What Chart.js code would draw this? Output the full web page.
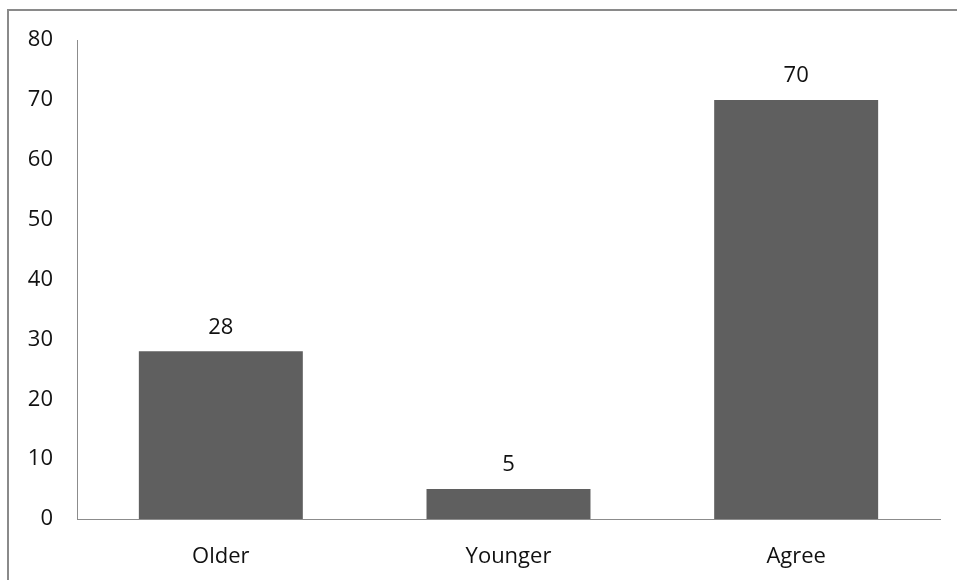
<!DOCTYPE html>
<html>
<head>
<meta charset="utf-8">
<script src="https://cdn.jsdelivr.net/npm/chart.js@4/dist/chart.umd.min.js"></script>
<style>
  html, body { margin: 0; padding: 0; background: #fff; }
  #wrap { position: relative; width: 957px; height: 580px; }
  canvas { display: block; }
</style>
</head>
<body>
<div id="wrap"><canvas id="chart" width="957" height="580"></canvas></div>
<script>
// Responses per group
const categories = ['Older', 'Younger', 'Agree'];
const counts = [28, 5, 70];
const yTicks = [0, 10, 20, 30, 40, 50, 60, 70, 80];

const FONT = '"Open Sans", "Liberation Sans", sans-serif';

// Frame lines along the left and top edges of the figure
const framePlugin = {
  id: 'frame',
  beforeDraw(chart) {
    const ctx = chart.ctx;
    ctx.save();
    ctx.fillStyle = '#ffffff';
    ctx.fillRect(0, 0, chart.width, chart.height);
    ctx.strokeStyle = '#8a8a8a';
    ctx.lineWidth = 2;
    ctx.beginPath();
    ctx.moveTo(8, chart.height);
    ctx.lineTo(8, 10);
    ctx.lineTo(chart.width, 10);
    ctx.stroke();
    ctx.restore();
  }
};

// Value printed above each bar
const valueLabels = {
  id: 'valueLabels',
  afterDatasetsDraw(chart) {
    const ctx = chart.ctx;
    const meta = chart.getDatasetMeta(0);
    ctx.save();
    ctx.font = '22px ' + FONT;
    ctx.fillStyle = '#111111';
    ctx.textAlign = 'center';
    ctx.textBaseline = 'middle';
    meta.data.forEach((bar, i) => {
      ctx.fillText(String(chart.data.datasets[0].data[i]), bar.x, bar.y - 24);
    });
    ctx.restore();
  }
};

new Chart(document.getElementById('chart'), {
  type: 'bar',
  data: {
    labels: categories,
    datasets: [{
      data: counts,
      backgroundColor: '#5f5f5f',
      borderWidth: 0,
      categoryPercentage: 1,
      barPercentage: 0.57
    }]
  },
  options: {
    responsive: false,
    animation: false,
    devicePixelRatio: 1,
    layout: { padding: { left: 0, top: 40, right: 17, bottom: 0 } },
    plugins: { legend: { display: false }, tooltip: { enabled: false } },
    scales: {
      x: {
        grid: { display: false, drawTicks: false },
        border: { display: true, color: '#8c8c8c', width: 1 },
        ticks: { color: '#111111', font: { family: FONT, size: 22 }, padding: 25, maxRotation: 0 },
        afterFit(scale) { scale.height = 61; }
      },
      y: {
        min: 0,
        max: 80,
        afterBuildTicks(scale) { scale.ticks = yTicks.map(v => ({ value: v })); },
        grid: { display: false, drawTicks: false },
        border: { display: true, color: '#8c8c8c', width: 1 },
        ticks: { color: '#111111', font: { family: FONT, size: 22 }, padding: 24 },
        afterFit(scale) { scale.width = 77; }
      }
    }
  },
  plugins: [framePlugin, valueLabels]
});
</script>
</body>
</html>
